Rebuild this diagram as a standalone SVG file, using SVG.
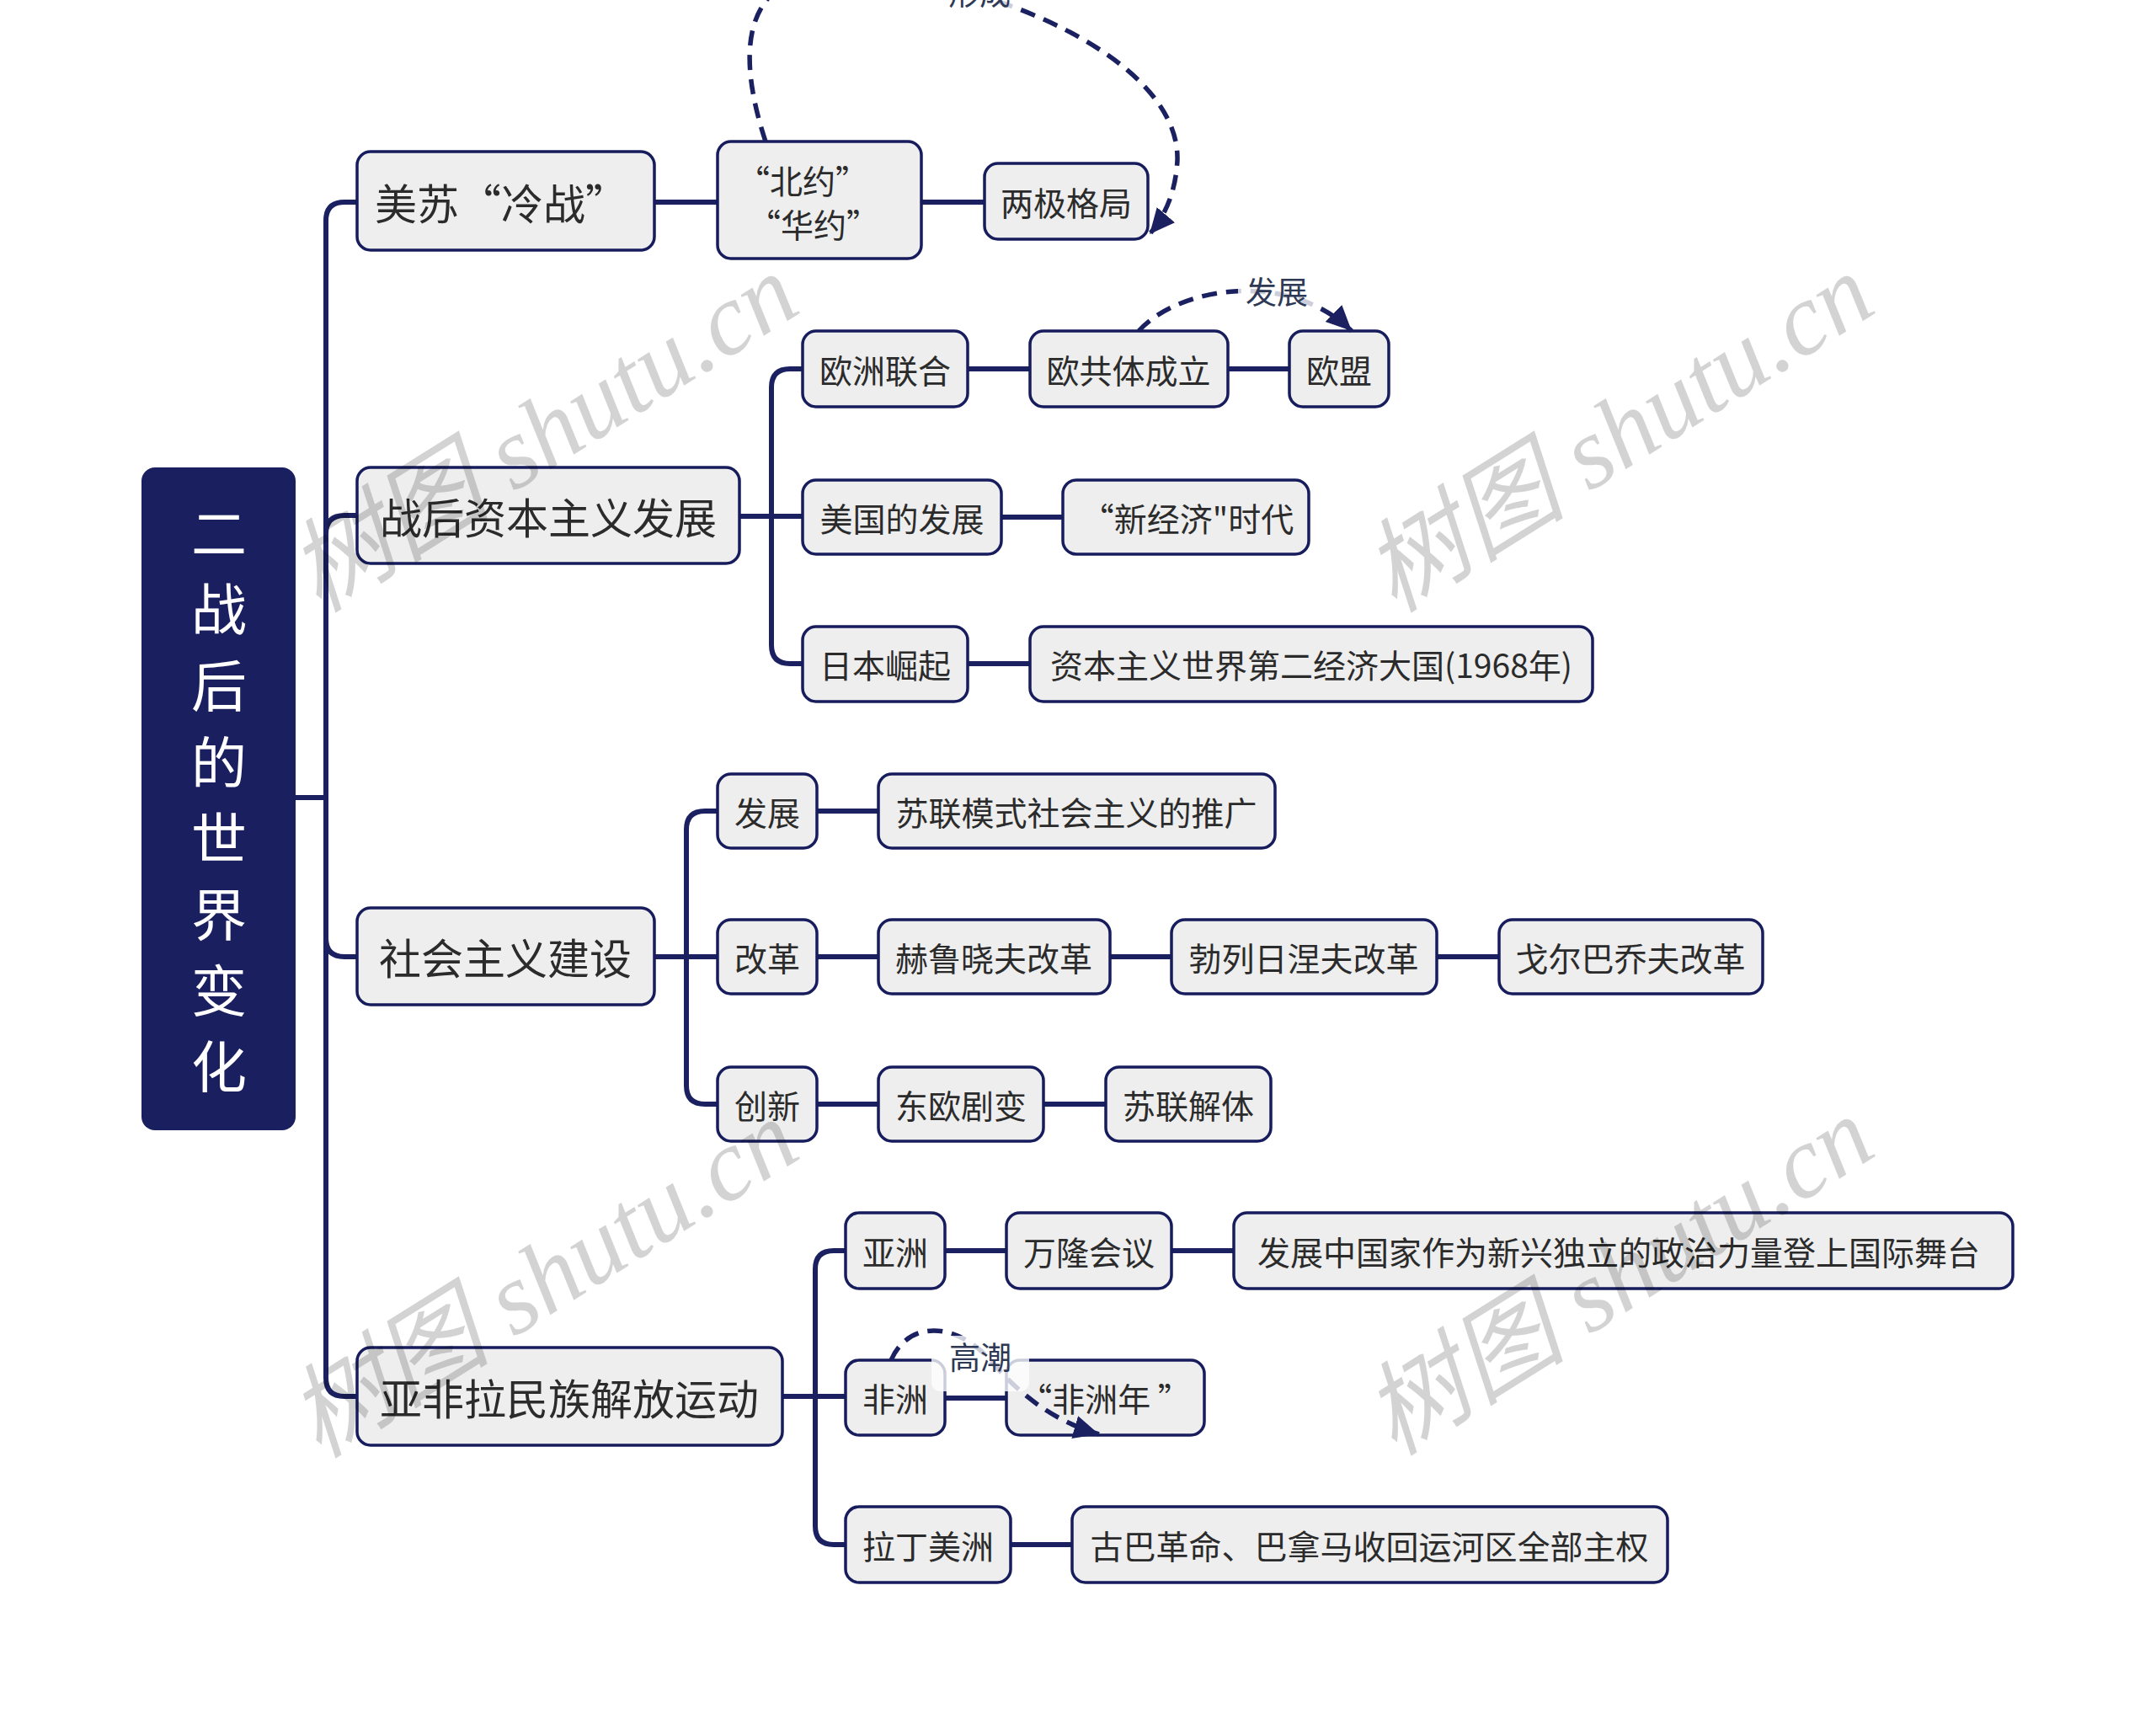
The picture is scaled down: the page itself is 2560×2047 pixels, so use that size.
<svg xmlns="http://www.w3.org/2000/svg" width="2560" height="2047" viewBox="0 0 2560 2047">
<style>
.n{fill:#eeeeee;stroke:#161c5c;stroke-width:3.5}
.root{fill:#1a1f60}
.t{font-family:"Noto Sans CJK SC","Liberation Sans",sans-serif;fill:#2b2b2b;text-anchor:middle;dominant-baseline:central}
.l1{font-size:50px}
.l2{font-size:39px}
.rt{font-size:66px;fill:#ffffff}
.c{fill:none;stroke:#1a2060;stroke-width:6}
.d{fill:none;stroke:#1a2060;stroke-width:5.5;stroke-dasharray:18 11}
.lb{fill:#ffffff;opacity:0.78}
.lt{font-family:"Noto Sans CJK SC","Liberation Sans",sans-serif;font-size:37px;fill:#2e3a55;text-anchor:middle;dominant-baseline:central}
.wm{font-family:"Liberation Serif","Noto Sans CJK SC",serif;font-style:italic;font-size:121px;fill:#000;opacity:0.17;text-anchor:middle;dominant-baseline:central}
</style>
<defs>
<marker id="arr" markerUnits="userSpaceOnUse" markerWidth="34" markerHeight="30" refX="30" refY="14" orient="auto">
<path d="M0,0 L30,14 L0,28 z" fill="#1a2060"/>
</marker>
</defs>
<rect width="2560" height="2047" fill="#ffffff"/>

<g id="connectors">
<path class="c" d="M351 947 H387"/>
<path class="c" d="M387 947 V262 Q387 240 409 240 H424"/>
<path class="c" d="M387 947 V634 Q387 612 409 612 H424"/>
<path class="c" d="M387 947 V1114 Q387 1136 409 1136 H424"/>
<path class="c" d="M387 947 V1636 Q387 1658 409 1658 H424"/>
<path class="c" d="M777 240 H852"/>
<path class="c" d="M1094 240 H1169"/>
<path class="c" d="M878 613 H916 V460 Q916 438 938 438 H953"/>
<path class="c" d="M878 613 H953"/>
<path class="c" d="M878 613 H916 V766 Q916 788 938 788 H953"/>
<path class="c" d="M1149 438 H1223"/>
<path class="c" d="M1458 438 H1531"/>
<path class="c" d="M1189 614 H1262"/>
<path class="c" d="M1149 788 H1223"/>
<path class="c" d="M777 1136 H815 V985 Q815 963 837 963 H852"/>
<path class="c" d="M777 1136 H852"/>
<path class="c" d="M777 1136 H815 V1289 Q815 1311 837 1311 H852"/>
<path class="c" d="M970 963 H1043"/>
<path class="c" d="M970 1136 H1043"/>
<path class="c" d="M1318 1136 H1391"/>
<path class="c" d="M1706 1136 H1780"/>
<path class="c" d="M970 1311 H1043"/>
<path class="c" d="M1239 1311 H1313"/>
<path class="c" d="M929 1658 H968 V1507 Q968 1485 990 1485 H1004"/>
<path class="c" d="M929 1658 H1004"/>
<path class="c" d="M929 1658 H968 V1812 Q968 1834 990 1834 H1004"/>
<path class="c" d="M1122 1485 H1195"/>
<path class="c" d="M1391 1485 H1465"/>
<path class="c" d="M1122 1660 H1195"/>
<path class="c" d="M1200 1834 H1273"/>
</g>

<g id="root"><rect class="root" x="168" y="555" width="183" height="787" rx="16"/>
<text class="t rt" x="260"><tspan x="260" y="629">二</tspan><tspan x="260" y="719">战</tspan><tspan x="260" y="810">后</tspan><tspan x="260" y="901">的</tspan><tspan x="260" y="991">世</tspan><tspan x="260" y="1082">界</tspan><tspan x="260" y="1172">变</tspan><tspan x="260" y="1262">化</tspan></text></g>

<g id="n-meisu"><rect class="n" x="424" y="180" width="353" height="117" rx="16"/><text class="t l1" x="595" y="239">美苏“冷战”</text></g>
<g id="n-zhanhou"><rect class="n" x="424" y="555" width="454" height="114" rx="16"/><text class="t l1" x="651" y="612">战后资本主义发展</text></g>
<g id="n-shehui"><rect class="n" x="424" y="1078" width="353" height="115" rx="16"/><text class="t l1" x="600" y="1135">社会主义建设</text></g>
<g id="n-yafeila"><rect class="n" x="424" y="1600" width="505" height="116" rx="16"/><text class="t l1" x="676" y="1658">亚非拉民族解放运动</text></g>

<g id="n-beiyue"><rect class="n" x="852" y="168" width="242" height="139" rx="16"/><text class="t l2" x="953" y="213">“北约”</text><text class="t l2" x="966" y="265">“华约”</text></g>
<g id="n-liangji"><rect class="n" x="1169" y="194" width="194" height="90" rx="16"/><text class="t l2" x="1266" y="239">两极格局</text></g>

<g id="n-ouzhou"><rect class="n" x="953" y="393" width="196" height="90" rx="16"/><text class="t l2" x="1051" y="438">欧洲联合</text></g>
<g id="n-ougongti"><rect class="n" x="1223" y="393" width="235" height="90" rx="16"/><text class="t l2" x="1340" y="438">欧共体成立</text></g>
<g id="n-oumeng"><rect class="n" x="1531" y="393" width="118" height="90" rx="16"/><text class="t l2" x="1590" y="438">欧盟</text></g>
<g id="n-meiguo"><rect class="n" x="953" y="570" width="236" height="88" rx="16"/><text class="t l2" x="1071" y="614">美国的发展</text></g>
<g id="n-xinjingji"><rect class="n" x="1262" y="570" width="292" height="88" rx="16"/><text class="t l2" x="1410" y="614">“新经济"时代</text></g>
<g id="n-riben"><rect class="n" x="953" y="744" width="196" height="89" rx="16"/><text class="t l2" x="1051" y="788">日本崛起</text></g>
<g id="n-dierjingji"><rect class="n" x="1223" y="744" width="668" height="89" rx="16"/><text class="t l2" x="1557" y="788">资本主义世界第二经济大国(1968年)</text></g>

<g id="n-fazhan"><rect class="n" x="852" y="919" width="118" height="88" rx="16"/><text class="t l2" x="911" y="963">发展</text></g>
<g id="n-sulianmoshi"><rect class="n" x="1043" y="919" width="471" height="88" rx="16"/><text class="t l2" x="1278" y="963">苏联模式社会主义的推广</text></g>
<g id="n-gaige"><rect class="n" x="852" y="1092" width="118" height="88" rx="16"/><text class="t l2" x="911" y="1136">改革</text></g>
<g id="n-heluxiaofu"><rect class="n" x="1043" y="1092" width="275" height="88" rx="16"/><text class="t l2" x="1180" y="1136">赫鲁晓夫改革</text></g>
<g id="n-bolie"><rect class="n" x="1391" y="1092" width="315" height="88" rx="16"/><text class="t l2" x="1548" y="1136">勃列日涅夫改革</text></g>
<g id="n-geerbaqiao"><rect class="n" x="1780" y="1092" width="313" height="88" rx="16"/><text class="t l2" x="1936" y="1136">戈尔巴乔夫改革</text></g>
<g id="n-chuangxin"><rect class="n" x="852" y="1267" width="118" height="88" rx="16"/><text class="t l2" x="911" y="1311">创新</text></g>
<g id="n-dongou"><rect class="n" x="1043" y="1267" width="196" height="88" rx="16"/><text class="t l2" x="1141" y="1311">东欧剧变</text></g>
<g id="n-jieti"><rect class="n" x="1313" y="1267" width="196" height="88" rx="16"/><text class="t l2" x="1411" y="1311">苏联解体</text></g>

<g id="n-yazhou"><rect class="n" x="1004" y="1440" width="118" height="90" rx="16"/><text class="t l2" x="1063" y="1485">亚洲</text></g>
<g id="n-wanlong"><rect class="n" x="1195" y="1440" width="196" height="90" rx="16"/><text class="t l2" x="1293" y="1485">万隆会议</text></g>
<g id="n-fazhanzhong"><rect class="n" x="1465" y="1440" width="925" height="90" rx="16"/><text class="t l2" x="1922" y="1485">发展中国家作为新兴独立的政治力量登上国际舞台</text></g>
<g id="n-feizhou"><rect class="n" x="1004" y="1615" width="118" height="89" rx="16"/><text class="t l2" x="1063" y="1659">非洲</text></g>
<g id="n-feizhounian"><rect class="n" x="1195" y="1615" width="235" height="89" rx="16"/><text class="t l2" x="1312" y="1659">“非洲年 ”</text></g>
<g id="n-lading"><rect class="n" x="1004" y="1789" width="196" height="90" rx="16"/><text class="t l2" x="1102" y="1834">拉丁美洲</text></g>
<g id="n-guba"><rect class="n" x="1273" y="1789" width="707" height="90" rx="16"/><text class="t l2" x="1626" y="1834">古巴革命、巴拿马收回运河区全部主权</text></g>

<g id="relations">
<path class="d" marker-end="url(#arr)" d="M909 168 C880 80, 885 20, 920 -10 C980 -60, 1100 -30, 1180 0 C1300 40, 1400 110, 1398 190 C1396 230, 1382 258, 1365 278"/>
<rect class="lb" x="1118" y="-34" width="92" height="48" rx="8"/>
<text class="lt" x="1163" y="-10">形成</text>
<path class="d" marker-end="url(#arr)" d="M1352 393 C1400 340, 1530 320, 1605 393"/>
<rect class="lb" x="1470" y="322" width="92" height="48" rx="8"/>
<text class="lt" x="1516" y="345">发展</text>
<path class="d" marker-end="url(#arr)" d="M1058 1615 C1080 1565, 1140 1570, 1180 1620 C1220 1665, 1260 1690, 1305 1703"/>
<rect class="lb" x="1106" y="1586" width="116" height="66" rx="10"/>
<text class="lt" x="1164" y="1610">高潮</text>
</g>

<g id="watermark">
<text class="wm" transform="translate(645 514) rotate(-32)">树图 shutu.cn</text>
<text class="wm" transform="translate(1922 514) rotate(-32)">树图 shutu.cn</text>
<text class="wm" transform="translate(645 1518) rotate(-32)">树图 shutu.cn</text>
<text class="wm" transform="translate(1922 1515) rotate(-32)">树图 shutu.cn</text>
</g>
</svg>
